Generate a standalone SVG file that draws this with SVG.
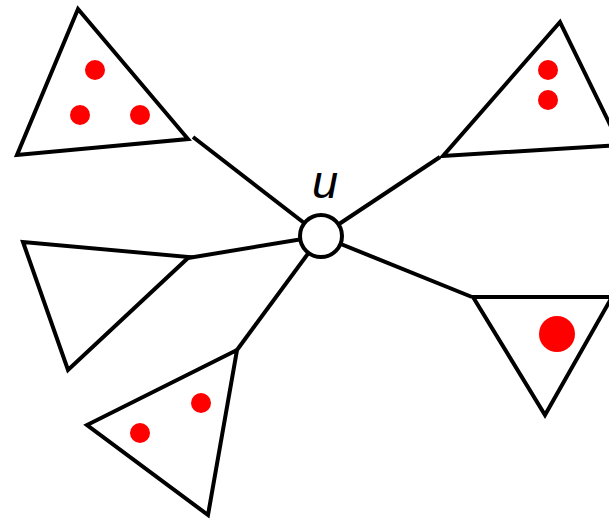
<svg xmlns="http://www.w3.org/2000/svg" width="609" height="519" viewBox="0 0 609 519">
<style>
.tri{fill:none;stroke:#000;stroke-width:4;stroke-linejoin:miter}
.dot{fill:#ff0000}
.edge{stroke:#000;stroke-width:4;fill:none}
.node{fill:#fff;stroke:#000;stroke-width:4}
.lbl{font-family:"Liberation Sans",Arial,sans-serif;font-style:italic;font-size:47px;fill:#000}
</style>
<rect width="609" height="519" fill="#fff"/>
<g id="connectors">
<line class="edge" x1="193" y1="137" x2="321" y2="236"/>
<line class="edge" x1="440" y1="157" x2="321" y2="236"/>
<line class="edge" x1="188" y1="258" x2="321" y2="236"/>
<line class="edge" x1="237" y1="350" x2="321" y2="236"/>
<line class="edge" x1="472" y1="297" x2="321" y2="236"/>
</g>
<g id="t1">
<polygon class="tri" points="78,9 17,155 188,139"/>
<circle class="dot" cx="95" cy="70" r="10"/>
<circle class="dot" cx="80" cy="115" r="10"/>
<circle class="dot" cx="140" cy="115" r="10"/>
</g>
<g id="t2">
<polygon class="tri" points="560,22 443,156 620,145"/>
<circle class="dot" cx="548" cy="70" r="10"/>
<circle class="dot" cx="548" cy="100" r="10"/>
</g>
<g id="t3">
<polygon class="tri" points="23,242 68,370 189,257"/>
</g>
<g id="t4">
<polygon class="tri" points="237,350 87,425 208,515"/>
<circle class="dot" cx="201" cy="403" r="10"/>
<circle class="dot" cx="140" cy="433" r="10"/>
</g>
<g id="t5">
<polygon class="tri" points="473,297 545,415 612,297"/>
<circle class="dot" cx="557" cy="334" r="18"/>
</g>
<g id="u">
<circle class="node" cx="321" cy="236" r="21"/>
<text class="lbl" x="325" y="198" text-anchor="middle">u</text>
</g>
</svg>
